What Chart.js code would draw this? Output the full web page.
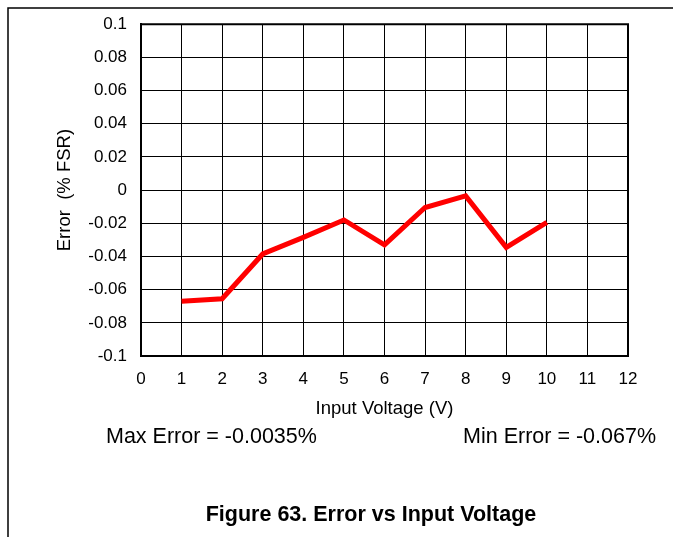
<!DOCTYPE html>
<html>
<head>
<meta charset="utf-8">
<title>Error vs Input Voltage</title>
<script src="https://cdn.jsdelivr.net/npm/chart.js@4/dist/chart.umd.min.js"></script>
<style>
  html, body { margin: 0; padding: 0; background: #fff; }
  #wrap { width: 673px; height: 537px; }
</style>
</head>
<body>
<div id="wrap"><canvas id="c" width="673" height="537"></canvas></div>
<script>
// Measured error at each input voltage
const inputVoltage = [1, 2, 3, 4, 5, 6, 7, 8, 9, 10];
const errorFSR = [-0.067, -0.0655, -0.0385, -0.0285, -0.018, -0.033, -0.0105, -0.0035, -0.0345, -0.0195];

// Axis ranges and ticks
const xTicks = [0, 1, 2, 3, 4, 5, 6, 7, 8, 9, 10, 11, 12];
const yTicks = [-0.1, -0.08, -0.06, -0.04, -0.02, 0, 0.02, 0.04, 0.06, 0.08, 0.1];

// Text drawn under the plot
const maxErrorText = 'Max Error = -0.0035%';
const minErrorText = 'Min Error = -0.067%';
const captionText = 'Figure 63. Error vs Input Voltage';
const xTitle = 'Input Voltage (V)';
const yTitle = 'Error  (% FSR)';

const FONT = "'Liberation Sans', Arial, sans-serif";

// Frame around the figure, box around the plot and the notes below it
const decorations = {
  id: 'decorations',
  afterDraw(chart) {
    const ctx = chart.ctx;
    const a = chart.chartArea;
    ctx.save();
    // plot box (top and right sides; axes draw the other two)
    ctx.strokeStyle = '#000';
    ctx.lineWidth = 2;
    ctx.beginPath();
    ctx.moveTo(a.left - 1, a.top);
    ctx.lineTo(a.right, a.top);
    ctx.lineTo(a.right, a.bottom + 1);
    ctx.stroke();
    // figure frame
    ctx.lineWidth = 1.5;
    ctx.beginPath();
    ctx.moveTo(8, 537);
    ctx.lineTo(8, 8);
    ctx.lineTo(673, 8);
    ctx.stroke();
    // notes
    ctx.fillStyle = '#000';
    ctx.textBaseline = 'middle';
    ctx.font = '21.5px ' + FONT;
    ctx.textAlign = 'left';
    ctx.fillText(maxErrorText, 106, 437);
    ctx.textAlign = 'right';
    ctx.fillText(minErrorText, 656, 437);
    ctx.font = 'bold 21.5px ' + FONT;
    ctx.textAlign = 'center';
    ctx.fillText(captionText, 371, 515);
    ctx.restore();
  }
};

const points = inputVoltage.map((v, i) => ({ x: v, y: errorFSR[i] }));

new Chart(document.getElementById('c'), {
  type: 'line',
  data: {
    datasets: [{
      data: points,
      borderColor: 'rgb(255,0,0)',
      borderWidth: 5,
      pointRadius: 0,
      tension: 0,
      fill: false,
      borderCapStyle: 'butt',
      borderJoinStyle: 'miter'
    }]
  },
  options: {
    responsive: false,
    animation: false,
    devicePixelRatio: 1,
    layout: { padding: { left: 0, right: 45, top: 24, bottom: 111 } },
    plugins: {
      legend: { display: false },
      tooltip: { enabled: false }
    },
    scales: {
      x: {
        type: 'linear',
        min: xTicks[0],
        max: xTicks[xTicks.length - 1],
        afterBuildTicks(scale) { scale.ticks = xTicks.map(v => ({ value: v })); },
        afterFit(scale) { scale.height = 70; },
        ticks: {
          color: '#000',
          padding: 13,
          font: { family: FONT, size: 17 },
          callback: v => String(v)
        },
        grid: { color: '#000', lineWidth: 1, drawTicks: false },
        border: { display: true, color: '#000', width: 2 },
        title: {
          display: true,
          text: xTitle,
          color: '#000',
          font: { family: FONT, size: 18.5 },
          padding: { top: 0, bottom: 6 }
        }
      },
      y: {
        type: 'linear',
        min: yTicks[0],
        max: yTicks[yTicks.length - 1],
        afterBuildTicks(scale) { scale.ticks = yTicks.map(v => ({ value: v })); },
        afterFit(scale) { scale.width = 141; },
        ticks: {
          color: '#000',
          padding: 14,
          font: { family: FONT, size: 17 },
          callback: v => String(Number(v.toFixed(4)))
        },
        grid: { color: '#000', lineWidth: 1, drawTicks: false },
        border: { display: true, color: '#000', width: 2 },
        title: {
          display: true,
          text: yTitle,
          color: '#000',
          font: { family: FONT, size: 18.5 },
          padding: { top: 54, bottom: 0 }
        }
      }
    }
  },
  plugins: [decorations]
});
</script>
</body>
</html>
